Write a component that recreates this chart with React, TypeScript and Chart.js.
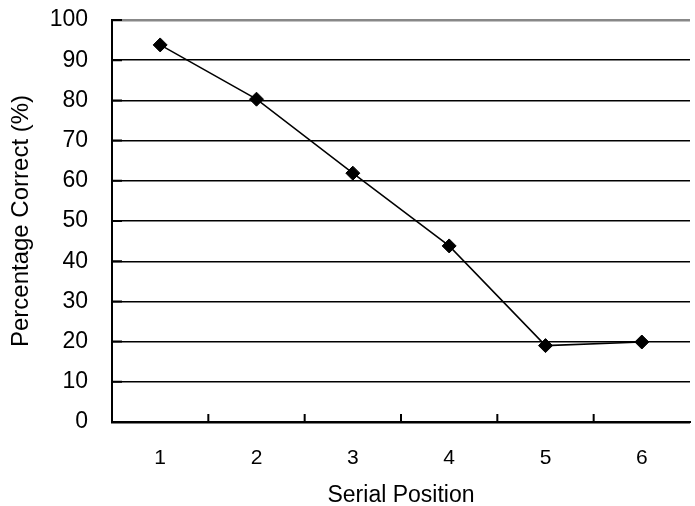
import React, { useEffect, useRef } from "react";
import { Chart, registerables } from "chart.js";

Chart.register(...registerables);

const categories = ["1", "2", "3", "4", "5", "6"];
const percentCorrect = [93.8, 80.3, 61.9, 43.8, 19.0, 19.9];
const yTicks = [0, 10, 20, 30, 40, 50, 60, 70, 80, 90, 100];

const FONT = "'Liberation Sans', Arial, 'Noto Sans CJK JP', sans-serif";

const innerTicks = {
  id: "innerTicks",
  afterDraw(chart: any) {
    const { ctx, chartArea, scales } = chart;
    const x = scales.x;
    const y = scales.y;
    ctx.save();
    ctx.strokeStyle = "#000";
    ctx.lineWidth = 2;
    ctx.beginPath();
    for (const t of y.ticks) {
      if (t.value === 0) continue;
      const py = y.getPixelForValue(t.value);
      ctx.moveTo(chartArea.left, py);
      ctx.lineTo(chartArea.left + 10, py);
    }
    for (let i = 0; i < categories.length - 1; i++) {
      const px = (x.getPixelForValue(i) + x.getPixelForValue(i + 1)) / 2;
      ctx.moveTo(px, chartArea.bottom);
      ctx.lineTo(px, chartArea.bottom - 8);
    }
    ctx.stroke();
    ctx.restore();
  },
};

export default function App() {
  const ref = useRef<HTMLCanvasElement>(null);
  useEffect(() => {
    if (!ref.current) return;
    const chart = new Chart(ref.current, {
      type: "line",
      data: {
        labels: categories,
        datasets: [
          {
            data: percentCorrect,
            borderColor: "#000",
            backgroundColor: "#000",
            borderWidth: 1.5,
            pointStyle: "rectRot",
            pointRadius: 7,
            pointBackgroundColor: "#000",
            pointBorderColor: "#000",
            pointBorderWidth: 1,
            tension: 0,
          },
        ],
      },
      options: {
        animation: false,
        responsive: false,
        devicePixelRatio: 1,
        layout: { padding: { top: 20, right: 0, bottom: 0, left: 0 } },
        plugins: { legend: { display: false }, tooltip: { enabled: false } },
        scales: {
          x: {
            offset: true,
            afterFit: (s: any) => {
              s.height = 84;
              s.paddingLeft = 0;
              s.paddingRight = 0;
            },
            grid: { display: false, drawTicks: false },
            border: { display: true, color: "#000", width: 2 },
            ticks: {
              color: "#000",
              padding: 24,
              font: { family: FONT, size: 21 },
            },
            title: {
              display: true,
              text: "Serial Position",
              color: "#000",
              font: { family: FONT, size: 23 },
              padding: { top: 0, bottom: -3 },
            },
          },
          y: {
            min: 0,
            max: 100,
            afterFit: (s: any) => {
              s.width = 112;
              s.paddingTop = 0;
              s.paddingBottom = 0;
            },
            afterBuildTicks: (s: any) => {
              s.ticks = yTicks.map((v) => ({ value: v }));
            },
            grid: {
              drawTicks: false,
              color: (c: any) => (c.tick && c.tick.value === 100 ? "#888" : "#000"),
              lineWidth: (c: any) =>
                c.tick && (c.tick.value === 100 || c.tick.value === 0) ? 2.5 : 1.4,
            },
            border: { display: true, color: "#000", width: 2 },
            ticks: {
              color: "#000",
              padding: 24,
              font: { family: FONT, size: 23 },
            },
            title: {
              display: true,
              text: "Percentage Correct (%)",
              color: "#000",
              font: { family: FONT, size: 24 },
              padding: { top: 7, bottom: 10 },
            },
          },
        },
      },
      plugins: [innerTicks],
    });
    return () => chart.destroy();
  }, []);
  return (
    <div
      style={{
        position: "absolute",
        left: 0,
        top: 0,
        width: 695,
        height: 506,
        overflow: "hidden",
        background: "#fff",
      }}
    >
      <canvas ref={ref} width={698} height={506} />
    </div>
  );
}
